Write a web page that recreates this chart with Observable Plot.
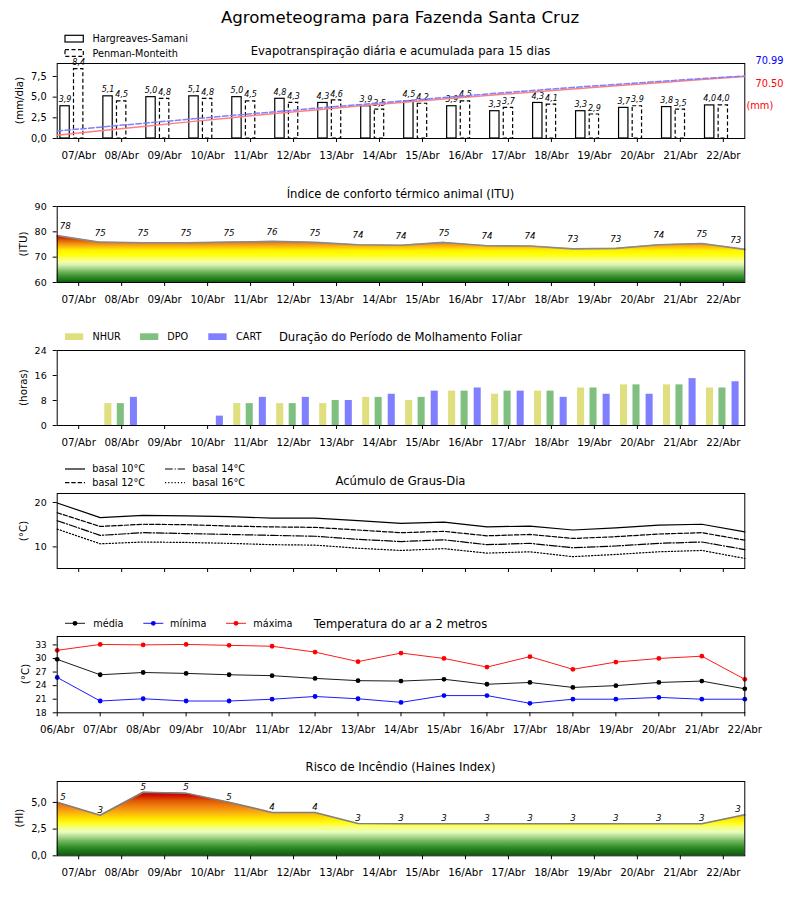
<!DOCTYPE html>
<html><head><meta charset="utf-8">
<script src="https://cdn.jsdelivr.net/npm/d3@7"></script>
<script src="https://cdn.jsdelivr.net/npm/@observablehq/plot@0.6"></script>
<style>
body{margin:0;background:#fff;}
#wrap{position:relative;width:800px;height:900px;font-family:"DejaVu Sans",sans-serif;overflow:hidden;}
#wrap svg.pp{position:absolute;left:0;}
#overlay{position:absolute;left:0;top:0;pointer-events:none;}
</style></head><body><div id="wrap"></div>
<script>
// ---------------- data ----------------
const dias = ["07/Abr","08/Abr","09/Abr","10/Abr","11/Abr","12/Abr","13/Abr","14/Abr","15/Abr","16/Abr","17/Abr","18/Abr","19/Abr","20/Abr","21/Abr","22/Abr"];
const datas = ["06/Abr","07/Abr","08/Abr","09/Abr","10/Abr","11/Abr","12/Abr","13/Abr","14/Abr","15/Abr","16/Abr","17/Abr","18/Abr","19/Abr","20/Abr","21/Abr","22/Abr"];

const etoHS = [3.9,5.1,5.0,5.1,5.0,4.8,4.3,3.9,4.5,3.9,3.3,4.3,3.3,3.7,3.8,4.0];
const etoPM = [8.4,4.5,4.8,4.8,4.5,4.3,4.6,3.5,4.2,4.5,3.7,4.1,2.9,3.9,3.5,4.0];
const acumHS = [3.7,8.8,13.7,18.6,23.4,28.0,32.5,36.8,41.0,45.0,48.8,52.5,56.2,59.8,63.4,67.0,70.5];
const acumPM = [8.5,12.9,17.3,21.6,25.9,30.1,34.3,38.4,42.5,46.5,50.5,54.3,58.0,61.4,64.8,68.0,70.99];
const totalPM = "70.99", totalHS = "70.50";

const itu = [78.5,75.9,75.7,75.7,75.9,76.2,75.8,74.9,74.7,75.8,74.5,74.4,73.3,73.5,74.9,75.4,73.1];

const nhur = [0,7,0,0,7,7,7,9,8,11,10,11,12,13,13,12];
const dpo  = [0,7,0,0,7,7,8,9,9,11,11,11,12,13,13,12];
const cart = [0,9,0,3,9,9,8,10,11,12,11,9,10,10,15,14];

const gd10 = [19.9,16.6,17.1,17.0,16.8,16.5,16.5,15.9,15.3,15.6,14.5,14.7,13.8,14.3,14.9,15.1,13.4];
const gd12 = [17.7,14.6,15.1,15.0,14.7,14.5,14.4,13.8,13.2,13.5,12.5,12.8,11.9,12.3,12.9,13.2,11.5];
const gd14 = [15.9,12.6,13.2,13.0,12.8,12.6,12.4,11.7,11.2,11.6,10.5,10.8,9.8,10.2,10.8,11.1,9.4];
const gd16 = [14.0,10.7,11.1,11.0,10.8,10.5,10.4,9.7,9.2,9.6,8.6,8.9,7.8,8.3,8.9,9.2,7.4];

const tmax = [31.8,33.1,33.0,33.1,32.9,32.7,31.4,29.3,31.2,30.0,28.1,30.4,27.6,29.2,30.0,30.5,25.4];
const tmed = [29.8,26.4,26.9,26.7,26.4,26.2,25.6,25.1,25.0,25.4,24.3,24.7,23.6,24.0,24.7,25.0,23.3];
const tmin = [25.8,20.6,21.1,20.6,20.6,21.0,21.6,21.1,20.3,21.8,21.8,20.1,21.0,21.0,21.4,21.0,21.0];

const haines = [5.02,3.8,5.95,5.87,5.02,4.06,4.06,3.03,3.0,3.0,3.0,3.0,3.0,3.0,3.0,3.0,3.84];

// ---------------- helpers ----------------
const FONT = "DejaVu Sans";
const W = 800, ML = 56.7, MR = 55.7;
const wrap = document.getElementById("wrap");
const comma = d => d3.format(".1f")(d).replace(".", ",");
const dayTicks = dias.map((d, i) => i + 0.5);
const bndTicks = datas.map((d, k) => k);
const pts = arr => arr.map((v, k) => ({k, v}));

function base(o) {
  return Object.assign({
    width: W, marginLeft: ML, marginRight: MR,
    style: {fontFamily: FONT, fontSize: "10.3px", background: "transparent", overflow: "visible"}
  }, o);
}
function place(svg, top) {
  svg.classList.add("pp");
  svg.style.top = top + "px";
  wrap.appendChild(svg);
  return svg;
}
function xAxisDays(labels = true) {
  return Plot.axisX(dayTicks, {tickSize: 4, tickPadding: 9, label: null,
    tickFormat: labels ? (d => dias[Math.round(d - 0.5)]) : (() => ""), fontSize: 10.3});
}
function yAxis(ticks, fmt, fs = 9.5) {
  return Plot.axisY(ticks, {tickSize: 4, tickPadding: 6.5, label: null, tickFormat: fmt, fontSize: fs});
}
function addGradient(svg, id, stops) {
  const y = svg.scale("y");
  const v0 = stops[0][0], v1 = stops[stops.length - 1][0];
  const g = d3.select(svg).insert("defs", ":first-child").append("linearGradient")
    .attr("id", id).attr("gradientUnits", "userSpaceOnUse")
    .attr("x1", 0).attr("x2", 0).attr("y1", y.apply(v0)).attr("y2", y.apply(v1));
  for (const [v, c] of stops) g.append("stop").attr("offset", (v - v0) / (v1 - v0)).attr("stop-color", c);
}
const frame = () => Plot.frame({stroke: "black", strokeWidth: 1});

// ---------------- panel 1: ET ----------------
const hsOff = -0.317, pmOff = 0, bw = 0.109;
place(Plot.plot(base({
  height: 115, marginTop: 10, marginBottom: 30,
  x: {domain: [0, 16]}, y: {domain: [0, 9.07]},
  marks: [
    Plot.rect(etoHS, {x1: (d, i) => i + 0.5 + hsOff - bw, x2: (d, i) => i + 0.5 + hsOff + bw, y1: 0, y2: d => d,
      fill: "white", stroke: "black", strokeWidth: 1.2}),
    Plot.rect(etoPM, {x1: (d, i) => i + 0.5 + pmOff - bw, x2: (d, i) => i + 0.5 + pmOff + bw, y1: 0, y2: d => d,
      fill: "white", stroke: "black", strokeWidth: 1.2, strokeDasharray: "4,2.5"}),
    Plot.text(etoHS, {x: (d, i) => i + 0.5 + hsOff, y: d => d, text: d => comma(d), dy: -6.5, fontStyle: "italic", fontSize: 8}),
    Plot.text(etoPM, {x: (d, i) => i + 0.5 + pmOff, y: d => d, text: d => comma(d), dy: -6.5, fontStyle: "italic", fontSize: 8}),
    frame(), xAxisDays(), yAxis([0, 2.5, 5, 7.5], comma, 9.8)
  ]
})), 53);

place(Plot.plot(base({
  height: 115, marginTop: 10, marginBottom: 30,
  x: {domain: [0, 16], axis: null}, y: {domain: [0, 85.19], axis: null},
  marks: [
    Plot.line(pts(acumHS), {x: "k", y: "v", stroke: "#ff7f7f", strokeWidth: 1.5}),
    Plot.line(pts(acumPM), {x: "k", y: "v", stroke: "#7f7fff", strokeWidth: 1.5, strokeDasharray: "5.5,2.4"})
  ]
})), 53);

// ---------------- panel 2: ITU ----------------
const ituP = pts(itu);
const ituLbl = {x: "k", y: "v", text: d => String(Math.trunc(d.v)), dy: -9.5, fontStyle: "italic", fontSize: 8.7};
const p2 = place(Plot.plot(base({
  height: 116, marginTop: 10, marginBottom: 30,
  x: {domain: [0, 16]}, y: {domain: [60, 90]},
  marks: [
    Plot.area(ituP, {x1: "k", y1: 60, y2: "v", fill: "url(#gradITU)"}),
    Plot.line(ituP, {x: "k", y: "v", stroke: "#8a8a8a", strokeWidth: 1.7}),
    Plot.text(ituP.slice(1, -1), ituLbl),
    Plot.text(ituP.slice(0, 1), {...ituLbl, textAnchor: "start", dx: 2.5}),
    Plot.text(ituP.slice(-1), {...ituLbl, textAnchor: "end", dx: -3.5}),
    frame(), xAxisDays(), yAxis([60, 70, 80, 90], d => String(d), 9.5)
  ]
})), 196);
addGradient(p2, "gradITU", [
  [60, "#0a5c0a"], [61, "#1e7a1a"], [62.5, "#3f9534"], [64, "#70b45c"], [65.5, "#a9d78c"],
  [66.8, "#daf3b2"], [68, "#f3ffa6"], [69.5, "#ffff50"], [71, "#ffff00"], [72.5, "#fff200"],
  [73.3, "#ffd400"], [74.1, "#fbb514"], [75.1, "#f09014"], [76.2, "#e26a04"], [77.2, "#d83a00"],
  [78, "#cc0000"], [79, "#b00000"]
]);

// ---------------- panel 3: leaf wetness ----------------
const wb = 0.082;
const wetBars = (arr, off, color) => Plot.rect(arr, {
  x1: (d, i) => i + 0.5 + off - wb, x2: (d, i) => i + 0.5 + off + wb, y1: 0, y2: d => d, fill: color});
place(Plot.plot(base({
  height: 115, marginTop: 10, marginBottom: 30,
  x: {domain: [0, 16]}, y: {domain: [0, 24]},
  marks: [
    wetBars(nhur, -0.31, "#dfdf7f"),
    wetBars(dpo, -0.02, "#7fbf7f"),
    wetBars(cart, 0.285, "#7f7fff"),
    frame(), xAxisDays(), yAxis([0, 8, 16, 24], d => String(d), 9.5)
  ]
})), 340);

// ---------------- panel 4: degree-days ----------------
place(Plot.plot(base({
  height: 95, marginTop: 10, marginBottom: 10,
  x: {domain: [0, 16]}, y: {domain: [5.13, 22.03]},
  marks: [
    Plot.line(pts(gd10), {x: "k", y: "v", stroke: "black", strokeWidth: 1.2}),
    Plot.line(pts(gd12), {x: "k", y: "v", stroke: "black", strokeWidth: 1.2, strokeDasharray: "4.4,1.9"}),
    Plot.line(pts(gd14), {x: "k", y: "v", stroke: "black", strokeWidth: 1.2, strokeDasharray: "7.7,1.9,1.2,1.9"}),
    Plot.line(pts(gd16), {x: "k", y: "v", stroke: "black", strokeWidth: 1.2, strokeDasharray: "1.2,2"}),
    frame(), xAxisDays(false), yAxis([10, 20], d => String(d), 9.5)
  ]
})), 483.3);

// ---------------- panel 5: temperature ----------------
const tSeries = [[tmed, "black"], [tmin, "blue"], [tmax, "red"]];
place(Plot.plot(base({
  height: 116.3, marginTop: 10, marginBottom: 30,
  x: {domain: [0, 16]}, y: {domain: [18, 34.85]},
  marks: [
    ...tSeries.flatMap(([arr, c]) => [
      Plot.line(pts(arr), {x: "k", y: "v", stroke: c, strokeWidth: 0.9}),
      Plot.dot(pts(arr), {x: "k", y: "v", fill: c, r: 2.4})
    ]),
    frame(),
    Plot.axisX(bndTicks, {tickSize: 4, tickPadding: 9, label: null, tickFormat: d => datas[d], fontSize: 10.3}),
    yAxis([18, 21, 24, 27, 30, 33], d => String(d), 8.8)
  ]
})), 626);

// ---------------- panel 6: Haines ----------------
const hP = pts(haines);
const hLbl = {x: "k", y: "v", text: d => String(Math.trunc(d.v)), dy: -5.5, fontStyle: "italic", fontSize: 8.7};
const p6 = place(Plot.plot(base({
  height: 114.3, marginTop: 10, marginBottom: 30,
  x: {domain: [0, 16]}, y: {domain: [0, 6.96]},
  marks: [
    Plot.area(hP, {x1: "k", y1: 0, y2: "v", fill: "url(#gradHI)"}),
    Plot.line(hP, {x: "k", y: "v", stroke: "#808080", strokeWidth: 1.5}),
    Plot.text(hP.slice(1, -1), hLbl),
    Plot.text(hP.slice(0, 1), {...hLbl, textAnchor: "start", dx: 3}),
    Plot.text(hP.slice(-1), {...hLbl, textAnchor: "end", dx: -4}),
    frame(), xAxisDays(), yAxis([0, 2.5, 5], comma, 9.8)
  ]
})), 770.7);
addGradient(p6, "gradHI", [
  [0, "#0a5c0a"], [0.7, "#2c8a25"], [1.3, "#6db35a"], [1.8, "#b5de96"], [2.2, "#eaffc0"],
  [2.6, "#f6ff80"], [3.0, "#ffff1a"], [3.5, "#ffe000"], [4.0, "#fbb010"], [4.6, "#f08010"],
  [5.1, "#e05a00"], [5.5, "#d42000"], [5.8, "#c40000"], [6.3, "#b00000"]
]);

// ---------------- texts: titles, legends, labels ----------------
const ov = d3.select(wrap).append("svg").attr("id", "overlay").attr("width", 800).attr("height", 900)
  .style("font-family", FONT);
function txt(x, y, s, size, o = {}) {
  const t = ov.append("text").attr("x", x).attr("y", y).attr("dy", "0.35em")
    .attr("font-size", size).attr("text-anchor", o.anchor || "start").attr("fill", o.fill || "black").text(s);
  if (o.rot) t.attr("transform", `rotate(-90,${x},${y})`);
  return t;
}
txt(400, 17, "Agrometeograma para Fazenda Santa Cruz", 16.6, {anchor: "middle"});

// panel titles
txt(400.5, 51.3, "Evapotranspiração diária e acumulada para 15 dias", 11.6, {anchor: "middle"});
txt(400.5, 194, "Índice de conforto térmico animal (ITU)", 11.6, {anchor: "middle"});
txt(400.5, 337, "Duração do Período de Molhamento Foliar", 11.6, {anchor: "middle"});
txt(400.5, 480.5, "Acúmulo de Graus-Dia", 11.6, {anchor: "middle"});
txt(400.5, 624, "Temperatura do ar a 2 metros", 11.6, {anchor: "middle"});
txt(400.5, 767.3, "Risco de Incêndio (Haines Index)", 11.6, {anchor: "middle"});

// y labels
txt(19.3, 100.5, "(mm/dia)", 10.3, {anchor: "middle", rot: true});
txt(23.3, 244, "(ITU)", 10.3, {anchor: "middle", rot: true});
txt(23.3, 387.5, "(horas)", 10.3, {anchor: "middle", rot: true});
txt(23.3, 531, "(°C)", 10.3, {anchor: "middle", rot: true});
txt(25, 674, "(°C)", 10.3, {anchor: "middle", rot: true});
txt(19.3, 818, "(HI)", 10.3, {anchor: "middle", rot: true});

// right-side totals
txt(755.5, 60.5, totalPM, 9.8, {fill: "blue"});
txt(755.5, 83.5, totalHS, 9.8, {fill: "red"});
txt(746.5, 105.5, "(mm)", 9.8, {fill: "red"});

// legend panel 1
ov.append("rect").attr("x", 65).attr("y", 35.3).attr("width", 18.3).attr("height", 6.7)
  .attr("fill", "white").attr("stroke", "black").attr("stroke-width", 1.2);
ov.append("rect").attr("x", 65).attr("y", 49.7).attr("width", 18.3).attr("height", 6.7)
  .attr("fill", "white").attr("stroke", "black").attr("stroke-width", 1.2).attr("stroke-dasharray", "4,2.5");
txt(92.5, 38.7, "Hargreaves-Samani", 9.7);
txt(92.5, 53.2, "Penman-Monteith", 9.7);

// legend panel 3
[[65, "#dfdf7f", "NHUR", 92.5], [140, "#7fbf7f", "DPO", 167.3], [208.3, "#7f7fff", "CART", 236]].forEach(([x, c, s, tx]) => {
  ov.append("rect").attr("x", x).attr("y", 333.3).attr("width", 18.3).attr("height", 6.7).attr("fill", c);
  txt(tx, 336.7, s, 9.7);
});

// legend panel 4
[[65, 469, "", "basal 10°C"], [65, 482.7, "4.4,1.9", "basal 12°C"],
 [165, 469, "7.7,1.9,1.2,1.9", "basal 14°C"], [165, 482.7, "1.2,2", "basal 16°C"]].forEach(([x, y, da, s]) => {
  const l = ov.append("line").attr("x1", x).attr("x2", x + 20).attr("y1", y).attr("y2", y)
    .attr("stroke", "black").attr("stroke-width", 1.2);
  if (da) l.attr("stroke-dasharray", da);
  txt(x + 27.3, y, s, 9.7);
});

// legend panel 5
[[65, "black", "média", 93.3], [143.3, "blue", "mínima", 170], [226, "red", "máxima", 253.3]].forEach(([x, c, s, tx]) => {
  ov.append("line").attr("x1", x).attr("x2", x + 20).attr("y1", 623.3).attr("y2", 623.3)
    .attr("stroke", c).attr("stroke-width", 0.9);
  ov.append("circle").attr("cx", x + 10).attr("cy", 623.3).attr("r", 2.4).attr("fill", c);
  txt(tx, 623.3, s, 9.7);
});
</script></body></html>
